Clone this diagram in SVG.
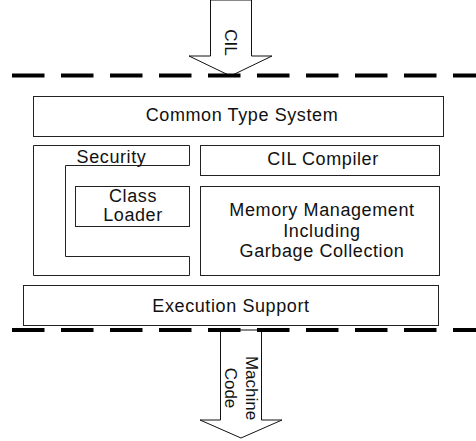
<svg xmlns="http://www.w3.org/2000/svg" width="476" height="441" viewBox="0 0 476 441">
<style>
.box{fill:#fff;stroke:#222;stroke-width:1}
.arrow{fill:#fff;stroke:#111;stroke-width:1}
.dash{fill:none;stroke:#000;stroke-width:4;stroke-dasharray:32.5 16.5}
text{font-family:"Liberation Sans",Arial,sans-serif;font-size:18px;fill:#111;letter-spacing:0.6px;text-anchor:middle}
.rot{font-size:17px;letter-spacing:0}
</style>
<rect width="476" height="441" fill="#fff"/>
<g id="connectors">
<polygon id="cil-arrow" class="arrow" points="210.5,0 210.5,56 189,56 230.5,76 272,56 251.5,56 251.5,0"/>
<polygon id="machine-arrow" class="arrow" points="220.5,330 220.5,420 200,420 241,438 282,420 261.5,420 261.5,330"/>
<line class="dash" x1="12" y1="75.5" x2="476" y2="75.5"/>
<line class="dash" x1="12" y1="330" x2="476" y2="330"/>
<text class="rot" transform="translate(225,42.5) rotate(90)" x="0" y="0">CIL</text>
<text class="rot" transform="translate(246,388) rotate(90)" x="0" y="0">Machine<tspan x="0" dy="21">Code</tspan></text>
</g>
<g id="common-type-system">
<rect class="box" x="33.5" y="96.5" width="410" height="40"/>
<text x="242" y="121">Common Type System</text>
</g>
<g id="security">
<polygon class="box" points="33.5,145.5 189.5,145.5 189.5,165.5 65.5,165.5 65.5,256.5 189.5,256.5 189.5,275.5 33.5,275.5"/>
<text x="111.5" y="162.5">Security</text>
</g>
<g id="class-loader">
<rect class="box" x="75.5" y="186.5" width="114" height="40"/>
<text x="133" y="201.5">Class</text>
<text x="133" y="221">Loader</text>
</g>
<g id="cil-compiler">
<rect class="box" x="200.5" y="145.5" width="239" height="30"/>
<text x="323" y="165">CIL Compiler</text>
</g>
<g id="memory-management">
<rect class="box" x="200.5" y="186.5" width="239" height="89"/>
<text x="322" y="216">Memory Management</text>
<text x="322" y="236.5">Including</text>
<text x="322" y="256.5">Garbage Collection</text>
</g>
<g id="execution-support">
<rect class="box" x="23.5" y="285.5" width="415" height="40"/>
<text x="231" y="312">Execution Support</text>
</g>
</svg>
